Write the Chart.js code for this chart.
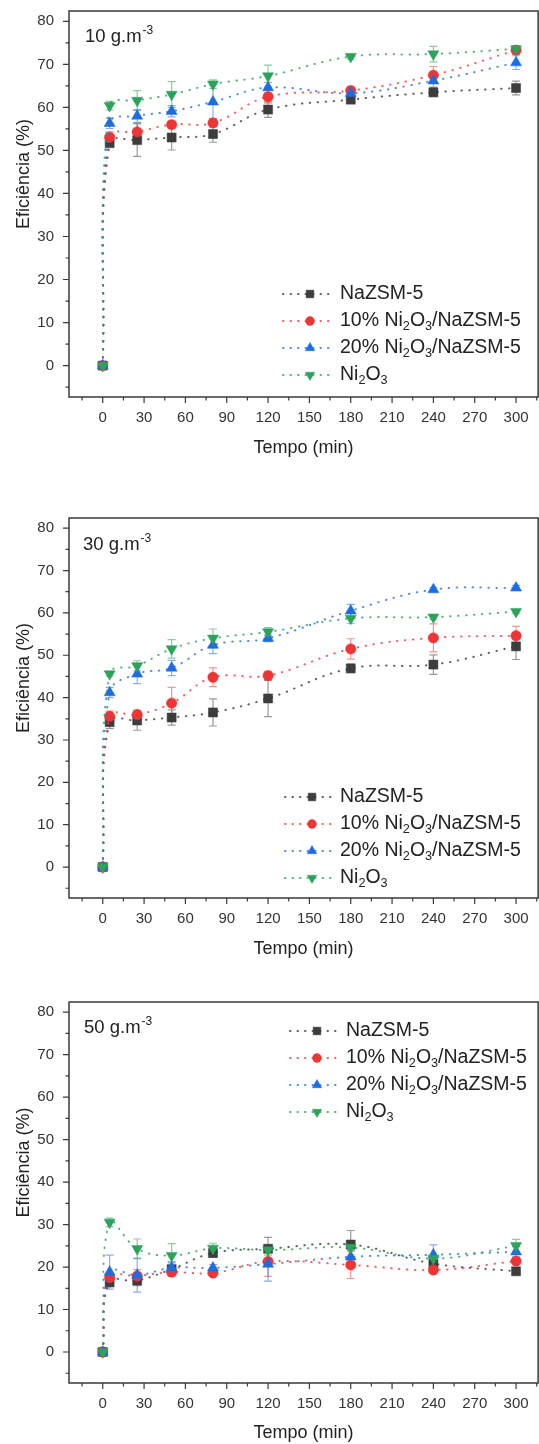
<!DOCTYPE html>
<html>
<head>
<meta charset="utf-8">
<script src="https://cdn.jsdelivr.net/npm/chart.js@4.4.1/dist/chart.umd.min.js"></script>
<style>
  html, body { margin: 0; padding: 0; background: #fff; width: 539px; height: 1444px; overflow: hidden; }
  .panel { position: absolute; left: 0; width: 539px; overflow: hidden; }
</style>
</head>
<body>
<div class="panel" style="top:0px;height:465px"><canvas id="c10" width="545" height="465"></canvas></div>
<div class="panel" style="top:507px;height:459px"><canvas id="c30" width="545" height="459"></canvas></div>
<div class="panel" style="top:991px;height:453px"><canvas id="c50" width="545" height="453"></canvas></div>

<script>
// === data ===
const times = [0, 5, 25, 50, 80, 120, 180, 240, 300];
const seriesNames = ['NaZSM-5', '10% Ni2O3/NaZSM-5', '20% Ni2O3/NaZSM-5', 'Ni2O3'];
const concLabels = ['10 g.m', '30 g.m', '50 g.m'];
const unitExp = '-3';

const xTicks = [0, 30, 60, 90, 120, 150, 180, 210, 240, 270, 300];
const xMinorTicks = [-15, 15, 45, 75, 105, 135, 165, 195, 225, 255, 285, 315];
const yTicks = [0, 10, 20, 30, 40, 50, 60, 70, 80];
const yMinorTicks = [-5, 5, 15, 25, 35, 45, 55, 65, 75];

// 10 g.m-3
const na10      = [0, 51.7, 52.4, 53.0, 53.8, 59.5, 61.8, 63.5, 64.5];
const na10Err   = [0, 0.8, 3.8, 2.9, 1.9, 1.8, 0.8, 1.0, 1.6];
const ni10_10    = [0, 53.1, 54.3, 56.0, 56.4, 62.5, 63.9, 67.5, 73.3];
const ni10_10Err = [0, 1.2, 2.0, 0.8, 1.0, 1.5, 1.0, 2.0, 1.0];
const ni20_10    = [0, 56.3, 58.0, 59.1, 61.3, 64.6, 63.3, 66.2, 70.4];
const ni20_10Err = [0, 1.2, 1.5, 1.3, 4.0, 1.2, 1.0, 1.5, 1.6];
const nio10     = [0, 60.4, 61.6, 63.0, 65.4, 67.3, 71.8, 72.4, 73.6];
const nio10Err  = [0, 1.0, 2.3, 3.0, 1.0, 2.5, 0.6, 1.8, 0.6];

// 30 g.m-3
const na30      = [0, 34.2, 34.6, 35.3, 36.5, 39.8, 46.9, 47.8, 52.1];
const na30Err   = [0, 1.5, 2.3, 1.8, 3.2, 4.3, 1.0, 2.3, 3.1];
const ni10_30    = [0, 35.6, 36.0, 38.7, 44.8, 45.2, 51.5, 54.1, 54.6];
const ni10_30Err = [0, 1.2, 1.0, 3.7, 2.2, 1.0, 2.4, 3.3, 2.2];
const ni20_30    = [0, 41.2, 45.6, 47.0, 52.4, 54.0, 60.5, 65.5, 65.9];
const ni20_30Err = [0, 1.2, 2.3, 1.8, 2.0, 0.8, 1.5, 0.5, 0.6];
const nio30     = [0, 45.6, 47.5, 51.5, 54.0, 55.5, 58.7, 59.0, 60.3];
const nio30Err  = [0, 0.5, 1.2, 2.2, 2.2, 1.0, 1.2, 0.5, 0.5];

// 50 g.m-3
const na50      = [0, 16.4, 16.8, 19.5, 23.3, 24.3, 25.3, 20.8, 19.0];
const na50Err   = [0, 1.0, 1.2, 1.5, 1.0, 2.7, 3.3, 1.0, 0.5];
const ni10_50    = [0, 17.5, 17.9, 18.8, 18.6, 21.3, 20.5, 19.3, 21.4];
const ni10_50Err = [0, 1.0, 1.5, 1.0, 0.8, 3.5, 3.2, 0.8, 0.6];
const ni20_50    = [0, 18.8, 18.1, 19.8, 19.8, 20.7, 22.4, 22.9, 23.6];
const ni20_50Err = [0, 4.0, 4.0, 1.5, 0.8, 4.0, 1.8, 2.3, 1.2];
const nio50     = [0, 30.5, 24.3, 22.7, 24.4, 24.0, 24.6, 22.0, 25.0];
const nio50Err  = [0, 1.0, 2.3, 2.8, 1.2, 1.2, 0.6, 0.5, 1.5];

// === styles ===
const FONT = "'Liberation Sans', Arial, Helvetica, sans-serif";
const markerColors = ['#3d3d3d', '#ee3535', '#1c6de3', '#2ca35a'];
const lineColors = ['rgba(70,70,70,0.85)', 'rgba(238,60,60,0.8)', 'rgba(40,110,230,0.8)', 'rgba(44,163,90,0.8)'];
const barColors = ['rgba(70,70,70,0.55)', 'rgba(238,60,60,0.55)', 'rgba(40,110,230,0.55)', 'rgba(44,163,90,0.55)'];
const markerStyles = ['rect', 'circle', 'triangle', 'triangle'];
const markerRotation = [0, 0, 0, 180];
const markerRadius = [6.4, 5.2, 6.4, 6.4];

const panels = [
    { id: 'c10', label: concLabels[0], values: [na10, ni10_10, ni20_10, nio10], errors: [na10Err, ni10_10Err, ni20_10Err, nio10Err],
      bottomH: 68, titlePad: 6, legend: { mx: 310, tx: 340, y: 294 }, labelPos: { x: 85, y: 42 } },
    { id: 'c30', label: concLabels[1], values: [na30, ni10_30, ni20_30, nio30], errors: [na30Err, ni10_30Err, ni20_30Err, nio30Err],
      bottomH: 68, titlePad: 6, legend: { mx: 312, tx: 340, y: 290 }, labelPos: { x: 83, y: 43 } },
    { id: 'c50', label: concLabels[2], values: [na50, ni10_50, ni20_50, nio50], errors: [na50Err, ni10_50Err, ni20_50Err, nio50Err],
      bottomH: 61, titlePad: 0, legend: { mx: 317, tx: 346, y: 40 }, labelPos: { x: 84, y: 42 } }
];

// draw text where digits right after a letter become subscripts (Ni2O3)
function drawChemText(ctx, text, x, y, size) {
    let cx = x;
    for (let i = 0; i < text.length; i++) {
        const ch = text[i];
        const prev = text[i - 1] || '';
        const sub = /\d/.test(ch) && /[A-Za-z]/.test(prev);
        ctx.font = (sub ? size * 0.65 : size) + 'px ' + FONT;
        ctx.fillText(ch, cx, sub ? y + size * 0.28 : y);
        cx += ctx.measureText(ch).width;
    }
}

function noScalePadding(s) {
    s.paddingTop = 0;
    s.paddingBottom = 0;
    s.paddingLeft = 0;
    s.paddingRight = 0;
}

const decorPlugin = {
    id: 'decor',
    beforeDatasetsDraw(chart, args, opts) {
        const ctx = chart.ctx;
        const yScale = chart.scales.y;
        ctx.save();
        opts.errors.forEach((errs, i) => {
            const meta = chart.getDatasetMeta(i);
            ctx.strokeStyle = barColors[i];
            ctx.lineWidth = 1.2;
            errs.forEach((e, k) => {
                if (!e) return;
                const pt = meta.data[k];
                const v = chart.data.datasets[i].data[k].y;
                const y1 = yScale.getPixelForValue(v + e);
                const y2 = yScale.getPixelForValue(v - e);
                ctx.beginPath();
                ctx.moveTo(pt.x, y1); ctx.lineTo(pt.x, y2);
                ctx.moveTo(pt.x - 4, y1); ctx.lineTo(pt.x + 4, y1);
                ctx.moveTo(pt.x - 4, y2); ctx.lineTo(pt.x + 4, y2);
                ctx.stroke();
            });
        });
        ctx.restore();
    },
    afterDraw(chart, args, opts) {
        const ctx = chart.ctx;
        const a = chart.chartArea;
        const xs = chart.scales.x, ys = chart.scales.y;
        ctx.save();
        // frame
        ctx.strokeStyle = '#3a3a3a';
        ctx.lineWidth = 1.5;
        ctx.strokeRect(a.left, a.top, a.right - a.left, a.bottom - a.top);
        // ticks
        ctx.lineWidth = 1.2;
        ctx.beginPath();
        xs.ticks.forEach(t => {
            const px = xs.getPixelForValue(t.value);
            const len = xTicks.includes(t.value) ? 6 : 3.5;
            ctx.moveTo(px, a.bottom); ctx.lineTo(px, a.bottom + len);
        });
        ys.ticks.forEach(t => {
            const py = ys.getPixelForValue(t.value);
            const len = yTicks.includes(t.value) ? 6 : 3.5;
            ctx.moveTo(a.left, py); ctx.lineTo(a.left - len, py);
        });
        ctx.stroke();

        // y axis title
        ctx.fillStyle = '#222';
        ctx.font = '18px ' + FONT;
        ctx.textAlign = 'center';
        ctx.textBaseline = 'middle';
        ctx.save();
        ctx.translate(24, (a.top + a.bottom) / 2 - 30);
        ctx.rotate(-Math.PI / 2);
        ctx.fillText('Eficiência (%)', 0, 0);
        ctx.restore();

        // concentration label
        ctx.textAlign = 'left';
        ctx.textBaseline = 'alphabetic';
        ctx.font = '18.5px ' + FONT;
        ctx.fillText(opts.label, opts.labelPos.x, opts.labelPos.y);
        const w = ctx.measureText(opts.label).width;
        ctx.font = '12px ' + FONT;
        ctx.fillText(unitExp, opts.labelPos.x + w + 1, opts.labelPos.y - 8);

        // legend
        const lg = opts.legend;
        seriesNames.forEach((name, i) => {
            const y = lg.y + i * 27;
            ctx.save();
            ctx.strokeStyle = lineColors[i];
            ctx.lineWidth = 2;
            ctx.lineCap = 'round';
            ctx.setLineDash([0.5, 7]);
            ctx.beginPath();
            ctx.moveTo(lg.mx - 27, y); ctx.lineTo(lg.mx + 24, y);
            ctx.stroke();
            ctx.restore();
            ctx.fillStyle = markerColors[i];
            ctx.strokeStyle = markerColors[i];
            ctx.lineWidth = 0.5;
            Chart.helpers.drawPoint(ctx, {
                pointStyle: markerStyles[i], rotation: markerRotation[i],
                radius: markerRadius[i] * 0.85, borderWidth: 0.5
            }, lg.mx, y);
            ctx.fillStyle = '#222';
            ctx.textBaseline = 'middle';
            drawChemText(ctx, name, lg.tx, y, 19.5);
        });
        ctx.restore();
    }
};

function buildDatasets(valueSets) {
    return seriesNames.map((name, i) => ({
        label: name,
        data: times.map((t, k) => ({ x: t, y: valueSets[i][k] })),
        borderColor: lineColors[i],
        borderWidth: 2,
        borderDash: [0.5, 7.5],
        borderCapStyle: 'round',
        tension: 0.4,
        fill: false,
        pointStyle: markerStyles[i],
        pointRotation: markerRotation[i],
        pointRadius: markerRadius[i],
        pointBackgroundColor: markerColors[i],
        pointBorderColor: markerColors[i],
        pointBorderWidth: 0.5,
        order: 3 - i
    }));
}

panels.forEach(p => {
    const ctx = document.getElementById(p.id).getContext('2d');
    new Chart(ctx, {
        type: 'line',
        data: { datasets: buildDatasets(p.values) },
        options: {
            responsive: false,
            animation: false,
            devicePixelRatio: 1,
            events: [],
            layout: { padding: { top: 11, right: 1, left: 0, bottom: 0 } },
            plugins: {
                legend: { display: false },
                tooltip: { enabled: false },
                decor: { errors: p.errors, label: p.label, legend: p.legend, labelPos: p.labelPos }
            },
            scales: {
                x: {
                    type: 'linear',
                    min: -24.5,
                    max: 316,
                    afterFit: s => { s.height = p.bottomH; noScalePadding(s); },
                    afterBuildTicks: s => {
                        s.ticks = [...xTicks, ...xMinorTicks].sort((a, b) => a - b).map(v => ({ value: v }));
                    },
                    grid: { display: false, drawTicks: false },
                    border: { display: false },
                    ticks: {
                        autoSkip: false, maxRotation: 0, padding: 12,
                        color: '#333', font: { family: FONT, size: 15 },
                        callback: v => xTicks.includes(v) ? String(v) : ''
                    },
                    title: {
                        display: true, text: 'Tempo (min)', color: '#222',
                        font: { family: FONT, size: 18 }, padding: { top: 0, bottom: p.titlePad }
                    }
                },
                y: {
                    type: 'linear',
                    min: -7.3,
                    max: 82.4,
                    afterFit: s => { s.width = 69; noScalePadding(s); },
                    afterBuildTicks: s => {
                        s.ticks = [...yTicks, ...yMinorTicks].sort((a, b) => a - b).map(v => ({ value: v }));
                    },
                    grid: { display: false, drawTicks: false },
                    border: { display: false },
                    ticks: {
                        autoSkip: false, padding: 15,
                        color: '#333', font: { family: FONT, size: 15 },
                        callback: v => yTicks.includes(v) ? String(v) : ''
                    }
                }
            }
        },
        plugins: [decorPlugin]
    });
});
</script>
</body>
</html>
